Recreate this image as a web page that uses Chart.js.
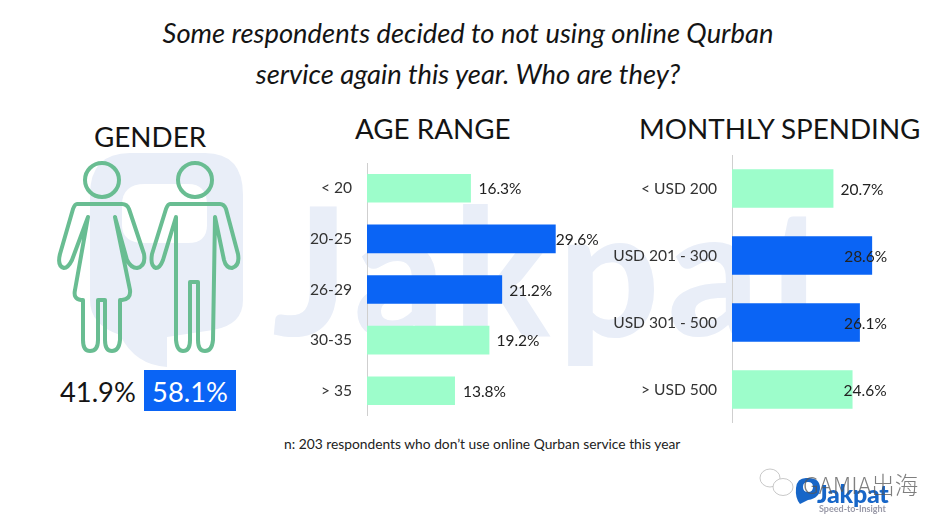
<!DOCTYPE html>
<html lang="en">
<head>
<meta charset="UTF-8">
<title>Online Qurban</title>
<style>
html, body { margin: 0; padding: 0; background: #fff; }
body { width: 947px; height: 525px; position: relative; overflow: hidden; font-family: Lato, sans-serif; color: #141414; }
.t { position: absolute; white-space: nowrap; }
.title { left: 0; width: 936px; text-align: center; font-style: italic; font-size: 27.35px; line-height: 40.5px; top: 13px; }
.head { font-size: 27.8px; line-height: 36px; }
.chartbox { position: absolute; }
svg { position: absolute; left: 0; top: 0; }
</style>
</head>
<body>
<!-- watermark and pictograms -->
<svg width="947" height="525">
  <path fill="#e9eef8" fill-rule="evenodd" d="M130 153 H205 Q243 153 243 195 V300 Q243 325 213 330 L167 337 V367 Q135 365 120 335 Q90 325 90 300 V195 Q90 153 130 153 Z M145 184 Q122 184 122 205 V225 Q122 243 145 243 H188 Q207 243 207 225 V205 Q207 184 188 184 Z"/>
  <text x="272" y="336" font-family="Lato" font-weight="900" font-size="178" letter-spacing="8" fill="#e9eef8">Jakpat</text>
  <g fill="none" stroke="#69bd92" stroke-width="4" stroke-linejoin="round" stroke-linecap="round">
    <circle cx="102" cy="180" r="17"/>
    <circle cx="195" cy="180" r="17"/>
    <path d="M77 204 H122 Q127 204 129 209 L144 254 Q146 266 137 268 Q131 268 127 260 L115 217 L130 290 Q131 299 122 300 H120 V340 Q119 351 112 351 Q105 351 105 340 V300 H98 V340 Q98 351 90 351 Q83 351 83 340 V300 H81 Q73 299 75 290 L88 217 L72 260 Q68 268 64 268 Q57 266 60 254 L73 209 Q75 204 77 204 Z"/>
    <path d="M170 204 H220 Q224 204 226 209 L238 254 Q240 266 232 268 Q226 268 224 260 L215 217 L213 340 Q212 351 205 351 Q198 351 198 340 V282 H190 V340 Q190 351 183 351 Q177 351 176 340 V217 L163 260 Q160 268 156 268 Q150 266 152 254 L166 209 Q168 204 170 204 Z"/>
  </g>
</svg>

<div class="t title">Some respondents decided to not using online Qurban<br>service again this year. Who are they?</div>
<div class="t head" style="left:94px;top:119px">GENDER</div>
<div class="t head" style="left:355px;top:111px">AGE RANGE</div>
<div class="t head" style="left:639px;top:111px">MONTHLY SPENDING</div>

<div class="t" id="femaleShare" style="left:60px;top:375px;font-size:27.3px;line-height:34px"></div>
<div class="t" id="maleShare" style="left:144px;top:370px;width:92px;height:41px;background:#0a64f5;color:#fff;text-align:center;font-size:27.3px;line-height:43px"></div>

<div class="chartbox" style="left:280px;top:163px;width:342px;height:253px"><canvas id="ageChart"></canvas></div>
<div class="chartbox" style="left:605px;top:155px;width:323px;height:268px"><canvas id="spendChart"></canvas></div>

<div class="t" style="left:284px;top:435px;font-size:13.8px;line-height:17px;color:#222">n: 203 respondents who don&#8217;t use online Qurban service this year</div>

<!-- bottom right logos -->
<svg width="947" height="525" style="pointer-events:none">
  <g fill="#fff" stroke="#bbb" stroke-width="0.8">
    <ellipse cx="770" cy="478" rx="10" ry="9"/>
    <ellipse cx="783" cy="487" rx="10" ry="8.5"/>
  </g>
  <path fill="#1766c8" fill-rule="evenodd" d="M806 478 Q820 477 820 488 Q820 498 808 500 L800 504 Q795 498 796 488 Q797 478 806 478 Z M808 482 Q803 482 803 487 Q803 492 808 492 Q813 492 813 487 Q813 482 808 482 Z"/>
</svg>
<div class="t" style="left:817px;top:480px;font-size:25px;line-height:26px;font-weight:900;color:#1766c8;letter-spacing:-0.3px">Jakpat</div>
<div class="t" style="left:819px;top:503px;font-size:9px;line-height:11px;font-weight:700;color:#9a9aa8">Speed-to-Insight</div>
<div class="t" style="left:803px;top:471px;font-size:23.5px;line-height:26px;color:#555;opacity:0.75;font-family:'Noto Sans CJK SC',sans-serif;font-weight:300">GAMIA出海</div>

<script src="https://cdn.jsdelivr.net/npm/chart.js"></script>
<script>
const genderShares = ['41.9%', '58.1%'];

const ageLabels = ['< 20', '20-25', '26-29', '30-35', '> 35'];
const ageValues = [16.3, 29.6, 21.2, 19.2, 13.8];
const ageHighlight = [false, true, true, false, false];
const ageLabelShift = [7.5, 0, 7, 7, 8];

const spendLabels = ['< USD 200', 'USD 201 - 300', 'USD 301 - 500', '> USD 500'];
const spendValues = [20.7, 28.6, 26.1, 24.6];
const spendHighlight = [false, true, true, false];
const spendLabelShift = [7, -28, -16, -9];

const axisMax = 40;
const mint = '#9dfdcb';
const blue = '#0a64f5';

document.getElementById('femaleShare').textContent = genderShares[0];
document.getElementById('maleShare').textContent = genderShares[1];

// value labels sit next to the bars, some of them overlap the bar in the original
const valueLabels = {
  id: 'valueLabels',
  afterDatasetsDraw(chart, args, opts) {
    const ctx = chart.ctx;
    ctx.save();
    ctx.font = '15.5px Lato';
    ctx.fillStyle = '#222';
    ctx.textBaseline = 'middle';
    chart.getDatasetMeta(0).data.forEach((bar, i) => {
      const value = chart.data.datasets[0].data[i];
      ctx.fillText(value.toFixed(1) + '%', bar.x + opts.shift[i], bar.y + 1);
    });
    ctx.restore();
  },
};

function barChart(id, labels, values, highlight, shift, axisWidth, barPct) {
  new Chart(document.getElementById(id), {
    type: 'bar',
    data: {
      labels: labels,
      datasets: [{
        data: values,
        backgroundColor: highlight.map((on) => (on ? blue : mint)),
        barPercentage: barPct,
        categoryPercentage: 1,
      }],
    },
    plugins: [valueLabels],
    options: {
      indexAxis: 'y',
      animation: false,
      responsive: true,
      maintainAspectRatio: false,
      layout: { padding: 0 },
      plugins: {
        legend: { display: false },
        tooltip: { enabled: false },
        valueLabels: { shift: shift },
      },
      scales: {
        x: { display: false, min: 0, max: axisMax },
        y: {
          // fixed axis width, and drop the tick padding the layout adds above and below
          afterFit(scale) {
            scale.width = axisWidth;
            scale.paddingTop = 0;
            scale.paddingBottom = 0;
          },
          grid: { display: false, drawTicks: false },
          border: { color: '#cfcfcf', width: 1 },
          ticks: {
            padding: 15,
            color: '#333',
            font: { family: 'Lato', size: 15.6 },
          },
        },
      },
    },
  });
}

barChart('ageChart', ageLabels, ageValues, ageHighlight, ageLabelShift, 87, 0.565);
barChart('spendChart', spendLabels, spendValues, spendHighlight, spendLabelShift, 127, 0.575);
</script>
</body>
</html>
